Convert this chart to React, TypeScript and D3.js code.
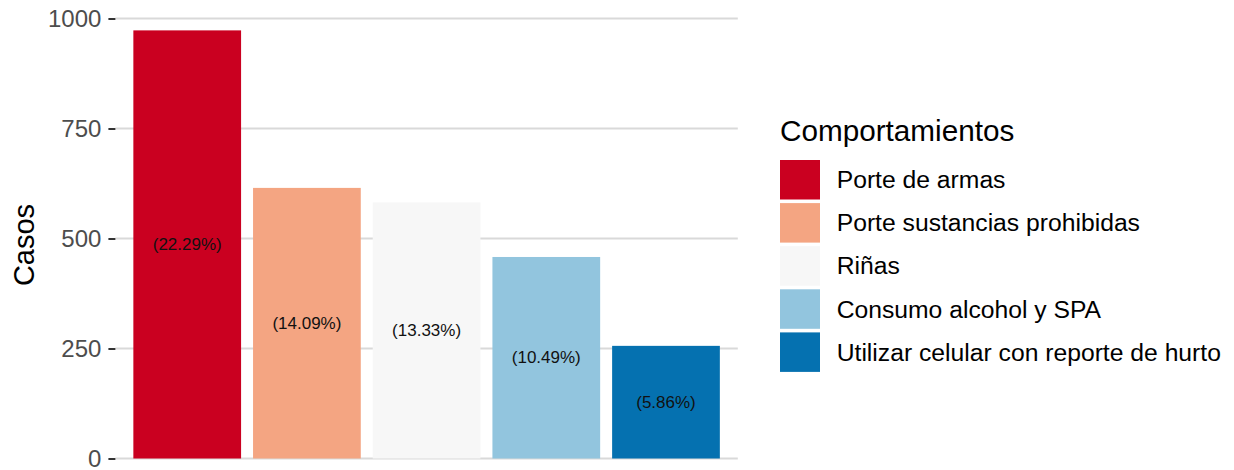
import React, { useEffect, useRef } from "react"
import * as d3 from "d3"

// values
const categories = [
  "Porte de armas",
  "Porte sustancias prohibidas",
  "Riñas",
  "Consumo alcohol y SPA",
  "Utilizar celular con reporte de hurto",
]
const casos = [973, 615, 582, 458, 256]
const porcentajes = ["22.29%", "14.09%", "13.33%", "10.49%", "5.86%"]
const colores = ["#CA0020", "#F4A582", "#F7F7F7", "#92C5DE", "#0571B0"]
const yTicks = [0, 250, 500, 750, 1000]

const FONT = "'Liberation Sans', Arial, sans-serif"

export default function App() {
  const ref = useRef<SVGSVGElement>(null)

  useEffect(() => {
    const svg = d3.select(ref.current)
    svg.selectAll("*").remove()

    const left = 115.4, right = 737.8
    const top = 18.5, bottom = 458.5

    const x = d3.scaleBand()
      .domain(categories)
      .range([left, right])
      .paddingInner(0.1)
      .paddingOuter(0.15)

    const y = d3.scaleLinear()
      .domain([0, 1000])
      .range([bottom, top])

    // grid
    svg.append("g")
      .selectAll("line")
      .data(yTicks)
      .enter()
      .append("line")
      .attr("x1", left)
      .attr("x2", right)
      .attr("y1", d => y(d))
      .attr("y2", d => y(d))
      .attr("stroke", "#d9d9d9")
      .attr("stroke-width", 2)

    // y axis
    const yAxis = d3.axisLeft(y)
      .tickValues(yTicks)
      .tickFormat(d3.format("d"))
      .tickSize(7)
      .tickPadding(7)
    const ga = svg.append("g")
      .attr("transform", "translate(" + left + ",0)")
      .call(yAxis)
    ga.select(".domain").remove()
    ga.selectAll(".tick line").attr("stroke", "#333333").attr("stroke-width", 2)
    ga.selectAll(".tick text")
      .attr("fill", "#4d4d4d")
      .style("font-family", FONT)
      .style("font-size", "24px")

    svg.append("text")
      .attr("transform", "translate(33.5,245) rotate(-90)")
      .attr("text-anchor", "middle")
      .style("font-family", FONT)
      .style("font-size", "29px")
      .attr("fill", "#000")
      .text("Casos")

    // bars
    svg.append("g")
      .selectAll("rect")
      .data(casos)
      .enter()
      .append("rect")
      .attr("x", (d, i) => x(categories[i])!)
      .attr("width", x.bandwidth())
      .attr("y", d => y(d))
      .attr("height", d => y(0) - y(d))
      .attr("fill", (d, i) => colores[i])

    svg.append("g")
      .selectAll("text")
      .data(casos)
      .enter()
      .append("text")
      .attr("x", (d, i) => x(categories[i])! + x.bandwidth() / 2)
      .attr("y", d => y(d / 2))
      .attr("text-anchor", "middle")
      .attr("dominant-baseline", "central")
      .style("font-family", FONT)
      .style("font-size", "17px")
      .attr("fill", "#111")
      .text((d, i) => "(" + porcentajes[i] + ")")

    // legend
    const lg = svg.append("g").attr("transform", "translate(780,0)")
    lg.append("text")
      .attr("x", 0)
      .attr("y", 140.7)
      .style("font-family", FONT)
      .style("font-size", "29.7px")
      .attr("fill", "#000")
      .text("Comportamientos")

    const items = lg.selectAll("g.item")
      .data(categories)
      .enter()
      .append("g")
      .attr("class", "item")
      .attr("transform", (d, i) => "translate(0," + (160 + i * 43.1) + ")")
    items.append("rect")
      .attr("width", 40)
      .attr("height", 39.5)
      .attr("fill", (d, i) => colores[i])
    items.append("text")
      .attr("x", 56.7)
      .attr("y", 19.8)
      .attr("dominant-baseline", "central")
      .style("font-family", FONT)
      .style("font-size", "24.7px")
      .attr("fill", "#000")
      .text(d => d)
  }, [])

  return (
    <svg ref={ref} width={1234} height={470} style={{ display: "block", position: "absolute", left: 0, top: 0, background: "#fff" }} />
  )
}
